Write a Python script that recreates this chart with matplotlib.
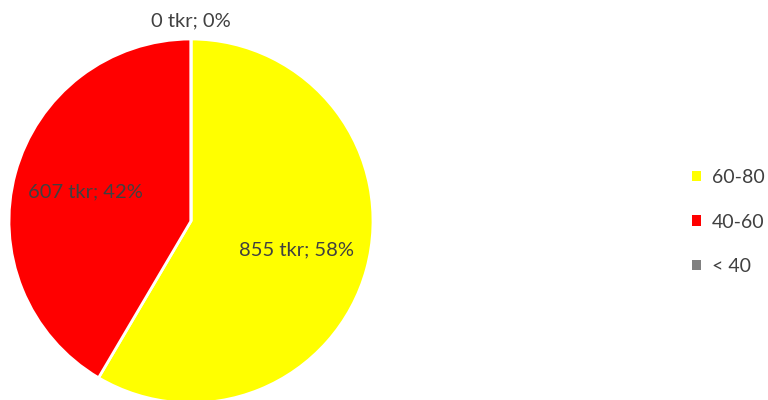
import numpy as np
import matplotlib
matplotlib.use("Agg")
import matplotlib.pyplot as plt

categories = ["60-80", "40-60", "< 40"]
values = [855, 607, 0]
colors = ["#FFFF00", "#FF0000", "#808080"]

plt.rcParams['font.family'] = ['Lato', 'DejaVu Sans']
txt_color = "#404040"

fig = plt.figure(figsize=(7.68, 4.0), dpi=100)
ax = fig.add_axes([0.0117, -0.0075, 0.474, 0.91])

wedges, _ = ax.pie(values, colors=colors, startangle=90, counterclock=False,
                   wedgeprops=dict(edgecolor="white", linewidth=2))
ax.set_xlim(-1, 1)
ax.set_ylim(-1, 1)
ax.set_aspect("equal")

total = sum(values)
for w, v in zip(wedges, values):
    mid = np.deg2rad((w.theta1 + w.theta2) / 2)
    r = 0.6 if v > 0 else 1.1
    ax.text(r * np.cos(mid), r * np.sin(mid),
            "%d tkr; %d%%" % (v, round(100 * v / total)),
            ha="center", va="center", fontsize=14.5, color=txt_color, clip_on=False)

leg = fig.legend(wedges, categories, loc="center left", bbox_to_anchor=(0.878, 0.445),
                 frameon=False, fontsize=14, handlelength=0.45, handleheight=0.45,
                 handletextpad=0.6, labelspacing=1.42)
for t in leg.get_texts():
    t.set_color(txt_color)
for h in leg.legend_handles:
    h.set_edgecolor("none")

fig.savefig("out.png", dpi=100)
